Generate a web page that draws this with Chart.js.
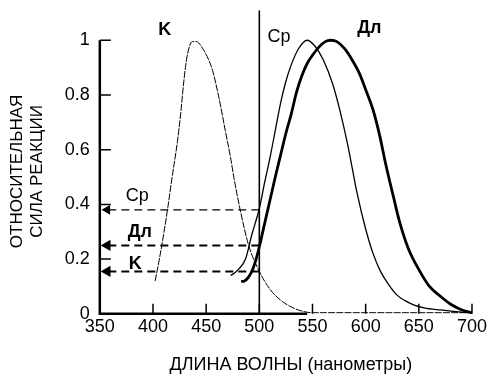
<!DOCTYPE html>
<html>
<head>
<meta charset="utf-8">
<script src="https://cdn.jsdelivr.net/npm/chart.js@4.4.1/dist/chart.umd.min.js"></script>
<style>
  body { margin: 0; background: #fff; }
  #chart { display: block; }
</style>
</head>
<body>
<canvas id="chart" width="489" height="376"></canvas>
<script>
// wavelength (nm) / relative response
const kWave = [402, 406, 410, 414, 418, 423, 426, 429, 432, 437, 441, 445, 451, 456, 462, 468, 473, 476, 482, 490, 500, 510, 520, 530, 540, 550, 600, 650, 700];
const kResp = [0.12, 0.2, 0.29, 0.39, 0.5, 0.63, 0.73, 0.85, 0.94, 0.995, 0.995, 0.98, 0.94, 0.89, 0.79, 0.67, 0.57, 0.5, 0.38, 0.25, 0.155, 0.09, 0.05, 0.025, 0.01, 0.004, 0.004, 0.004, 0.004];

const cpWave = [473, 477, 481, 487, 493, 500, 505, 510, 515, 520, 525, 530, 537, 545, 552, 560, 569, 576, 583, 588, 592, 600, 607, 614, 621, 629, 637, 645, 655, 670, 685, 700];
const cpResp = [0.14, 0.15, 0.165, 0.2, 0.29, 0.385, 0.48, 0.57, 0.67, 0.77, 0.85, 0.91, 0.97, 1.0, 0.98, 0.93, 0.84, 0.74, 0.62, 0.52, 0.44, 0.31, 0.22, 0.155, 0.11, 0.07, 0.048, 0.033, 0.022, 0.014, 0.008, 0.003];

const dlWave = [483, 486, 490, 494, 497, 500, 505, 510, 515, 520, 525, 530, 535, 540, 545, 550, 556, 562, 567, 573, 580, 587, 594, 600, 607, 613, 619, 626, 632, 640, 651, 660, 670, 680, 690, 700];
const dlResp = [0.118, 0.12, 0.135, 0.165, 0.2, 0.245, 0.33, 0.415, 0.5, 0.58, 0.66, 0.73, 0.81, 0.87, 0.915, 0.945, 0.975, 0.995, 1.0, 0.995, 0.97, 0.93, 0.88, 0.82, 0.745, 0.655, 0.545, 0.43, 0.335, 0.24, 0.155, 0.1, 0.065, 0.035, 0.015, 0.003];

// responses at 500 nm, shown by the dashed arrows
const arrowNames = ['Ср', 'Дл', 'K'];
const arrowLevels = [0.38, 0.25, 0.155];
const markWave = 500;
const arrowEnd = 357;

const xTicks = [350, 400, 450, 500, 550, 600, 650, 700];
const yTicks = [0, 0.2, 0.4, 0.6, 0.8, 1];
const yMax = 1.11;

const font = '"Liberation Sans", Arial, sans-serif';

function pts(xs, ys) {
  return xs.map((x, i) => ({ x, y: ys[i] }));
}

const datasets = [
  { data: pts(kWave, kResp), borderWidth: 1, borderDash: [7, 1.2] },
  { data: pts(cpWave, cpResp), borderWidth: 1.3 },
  { data: pts(dlWave, dlResp), borderWidth: 2.8 },
  { data: [{ x: markWave, y: 0 }, { x: markWave, y: yMax }], borderWidth: 1.6, tension: 0 }
];
arrowLevels.forEach((lv, i) => {
  datasets.push({
    data: [{ x: markWave, y: lv }, { x: arrowEnd, y: lv }],
    borderWidth: i === 0 ? 1.2 : 2,
    borderDash: [8, 5],
    tension: 0,
    pointRadius: [0, 4.5],
    pointStyle: 'triangle',
    rotation: -90,
    pointBackgroundColor: '#000'
  });
});
datasets.forEach(d => {
  d.borderColor = '#000';
  d.fill = false;
  if (d.pointRadius === undefined) d.pointRadius = 0;
  if (d.tension === undefined) d.cubicInterpolationMode = 'monotone';
});

// axis lines, inward tick marks and curve labels
const decor = {
  id: 'decor',
  afterDatasetsDraw(chart) {
    const { ctx, scales: { x, y } } = chart;
    ctx.save();
    ctx.strokeStyle = '#000';
    ctx.lineWidth = 2.5;
    ctx.beginPath();
    ctx.moveTo(x.getPixelForValue(350), y.getPixelForValue(1));
    ctx.lineTo(x.getPixelForValue(350), y.getPixelForValue(0));
    ctx.lineTo(x.getPixelForValue(545), y.getPixelForValue(0));
    ctx.stroke();
    ctx.lineWidth = 1.5;
    ctx.beginPath();
    yTicks.slice(1).forEach(v => {
      const py = y.getPixelForValue(v);
      ctx.moveTo(x.left, py);
      ctx.lineTo(x.left + 11, py);
    });
    xTicks.slice(1).forEach(v => {
      const px = x.getPixelForValue(v);
      ctx.moveTo(px, y.bottom);
      ctx.lineTo(px, y.bottom - 10);
    });
    ctx.stroke();

    ctx.fillStyle = '#000';
    ctx.textAlign = 'left';
    ctx.textBaseline = 'alphabetic';
    const labels = [
      ['K', 405, 1.018, 'bold'],
      ['Ср', 507.6, 0.993, ''],
      ['Дл', 592, 1.026, 'bold'],
      [arrowNames[0], 374.4, 0.412, ''],
      [arrowNames[1], 376.3, 0.279, 'bold'],
      [arrowNames[2], 377.2, 0.162, 'bold']
    ];
    labels.forEach(([t, lx, ly, w]) => {
      ctx.font = (w ? w + ' ' : '') + '18px ' + font;
      ctx.fillText(t, x.getPixelForValue(lx), y.getPixelForValue(ly));
    });
    ctx.restore();
  }
};

new Chart(document.getElementById('chart'), {
  type: 'line',
  data: { datasets },
  plugins: [decor],
  options: {
    responsive: false,
    animation: false,
    layout: { padding: { left: 0, right: 11, top: 0, bottom: 0 } },
    plugins: { legend: { display: false }, tooltip: { enabled: false } },
    scales: {
      x: {
        type: 'linear',
        min: 350,
        max: 700,
        grid: { display: false, drawTicks: false },
        border: { display: false },
        afterBuildTicks: s => { s.ticks = xTicks.map(v => ({ value: v })); },
        ticks: { color: '#000', padding: 2, font: { family: font, size: 18 } },
        title: {
          display: true,
          text: '  ДЛИНА ВОЛНЫ (нанометры)',
          color: '#000',
          padding: { top: 15, bottom: 0 },
          font: { family: font, size: 18 }
        }
      },
      y: {
        type: 'linear',
        min: 0,
        max: yMax,
        grid: { display: false, drawTicks: false },
        border: { display: false },
        afterBuildTicks: s => { s.ticks = yTicks.map(v => ({ value: v })); },
        ticks: { color: '#000', padding: 10, font: { family: font, size: 18, lineHeight: 0.02 }, callback: v => String(v) },
        title: {
          display: true,
          text: ['ОТНОСИТЕЛЬНАЯ    ', 'СИЛА РЕАКЦИИ    '],
          color: '#000',
          padding: { top: 7, bottom: 7 },
          font: { family: font, size: 17 }
        }
      }
    }
  }
});
</script>
</body>
</html>
